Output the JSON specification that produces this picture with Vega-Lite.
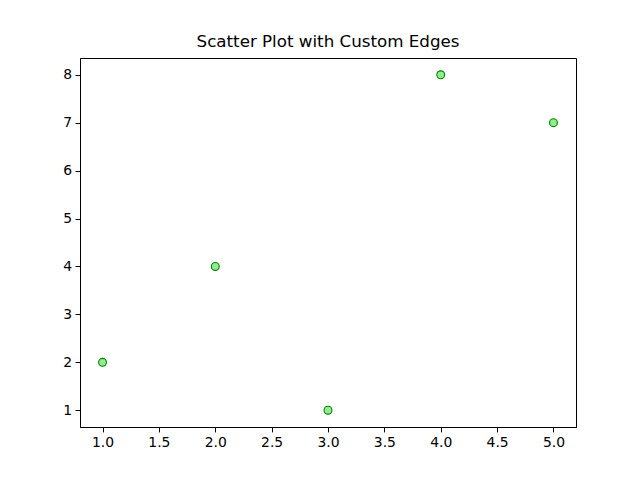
{
  "$schema": "https://vega.github.io/schema/vega-lite/v6.json",
  "autosize": {"type": "none"},
  "width": 496,
  "height": 369,
  "padding": {"left": 80, "top": 58, "right": 64, "bottom": 53},
  "background": "white",
  "title": {"text": "Scatter Plot with Custom Edges", "font": "DejaVu Sans", "fontSize": 16.7, "fontWeight": "normal", "color": "black", "offset": 7},
  "data": {"values": [
    {"x": 1, "y": 2},
    {"x": 2, "y": 4},
    {"x": 3, "y": 1},
    {"x": 4, "y": 8},
    {"x": 5, "y": 7}
  ]},
  "mark": {"type": "point", "filled": true, "fill": "#90ee90", "stroke": "#008000", "strokeWidth": 1.1, "size": 62, "opacity": 1, "fillOpacity": 1},
  "encoding": {
    "x": {"field": "x", "type": "quantitative", "scale": {"domain": [0.8, 5.2], "nice": false, "zero": false},
      "axis": {"title": null, "values": [1, 1.5, 2, 2.5, 3, 3.5, 4, 4.5, 5], "format": ".1f", "grid": false}},
    "y": {"field": "y", "type": "quantitative", "scale": {"domain": [0.65, 8.35], "nice": false, "zero": false},
      "axis": {"title": null, "values": [1, 2, 3, 4, 5, 6, 7, 8], "format": "d", "grid": false}}
  },
  "config": {
    "view": {"stroke": "black", "strokeWidth": 1},
    "axis": {"labelFont": "DejaVu Sans", "labelFontSize": 13.9, "labelColor": "black", "tickColor": "black", "domainColor": "black", "tickSize": 4.9, "labelPadding": 3.5, "domainWidth": 1, "tickWidth": 1}
  }
}
